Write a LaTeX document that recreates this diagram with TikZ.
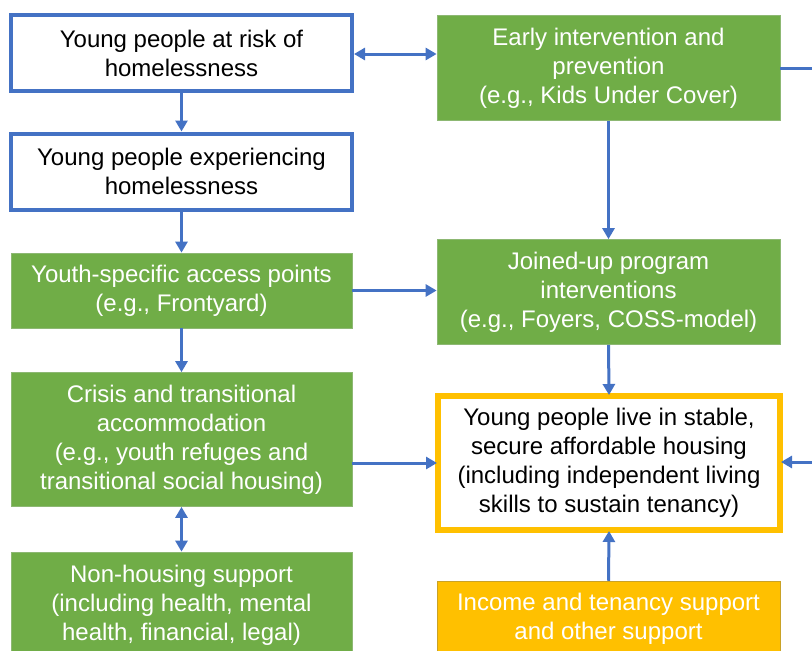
\documentclass[tikz,border=0pt]{standalone}
\usepackage{fontspec}
\setmainfont{Liberation Sans}
\usetikzlibrary{arrows.meta}
\definecolor{mblue}{HTML}{4472C4}
\definecolor{mgreen}{HTML}{70AD47}
\definecolor{mgreenedge}{HTML}{8DB873}
\definecolor{myellow}{HTML}{FFC000}
\definecolor{myellowedge}{HTML}{C9A227}
\tikzset{
  base/.style={rectangle, align=center, inner sep=0pt, font=\fontsize{24}{29}\selectfont},
  bluebox/.style={base, draw=mblue, line width=4pt, fill=white, text=black, minimum width=341pt, minimum height=76pt},
  greenbox/.style={base, draw=mgreenedge, line width=0.7pt, fill=mgreen, text=white},
  yellowbox/.style={base, draw=myellow, line width=6pt, fill=white, text=black},
  yellowfill/.style={base, draw=myellowedge, line width=0.5pt, fill=myellow, text=white},
  conn/.style={draw=mblue, line width=3pt},
  arr/.style={conn, -{Triangle[length=11pt,width=12pt]}},
  biarr/.style={conn, {Triangle[length=11pt,width=12pt]}-{Triangle[length=11pt,width=12pt]}},
  intoH/.style={arr, shorten >=-2pt},
}
\begin{document}
\begin{tikzpicture}[x=1pt,y=-1pt]
\useasboundingbox (0,0) rectangle (812,651);
\clip (0,0) rectangle (812,651);
% left column
\node[bluebox] (A) at (181.5,53) {Young people at risk of\\homelessness};
\node[bluebox] (B) at (181.5,171.5) {Young people experiencing\\homelessness};
\node[greenbox, minimum width=341pt, minimum height=75pt] (C) at (181.5,290.5) {Youth-specific access points\\(e.g., Frontyard)};
\node[greenbox, minimum width=341pt, minimum height=134pt] (D) at (181.5,439.5) {Crisis and transitional\\accommodation\\(e.g., youth refuges and\\transitional social housing)};
\node[greenbox, minimum width=341pt, minimum height=106pt] (E) at (181.5,605) {Non-housing support\\(including health, mental\\health, financial, legal)};
% right column
\node[greenbox, minimum width=343pt, minimum height=105pt] (F) at (608.5,68) {Early intervention and\\prevention\\(e.g., Kids Under Cover)};
\node[greenbox, minimum width=343pt, minimum height=105pt] (G) at (608.5,292) {Joined-up program\\interventions\\(e.g., Foyers, COSS-model)};
\node[yellowbox, minimum width=342pt, minimum height=134pt] (H) at (609,463) {Young people live in stable,\\secure affordable housing\\(including independent living\\skills to sustain tenancy)};
\node[yellowfill, minimum width=343pt, minimum height=76pt] (I) at (608.5,619) {Income and tenancy support\\and other support};
% connectors
\coordinate (R1) at (815,68);
\coordinate (R2) at (815,462);
\draw[biarr] ([yshift=-1pt]A.east) -- ([yshift=-1pt]A.east -| F.west);
\draw[arr] (A.south) -- (B.north);
\draw[arr] (B.south) -- (C.north);
\draw[arr] (C.east) -- (C.east -| G.west);
\draw[arr] (C.south) -- (D.north);
\draw[biarr] (D.south) -- (E.north);
\draw[intoH] (D.east |- H.west) -- (H.west);
\draw[arr] (F.south) -- (G.north);
\draw[intoH] (G.south) -- (H.north);
\draw[intoH] (I.north) -- (H.south);
\draw[conn] (F.east |- R1) -- (R1);
\draw[intoH] (R2) -- (H.east |- R2);
\end{tikzpicture}
\end{document}
